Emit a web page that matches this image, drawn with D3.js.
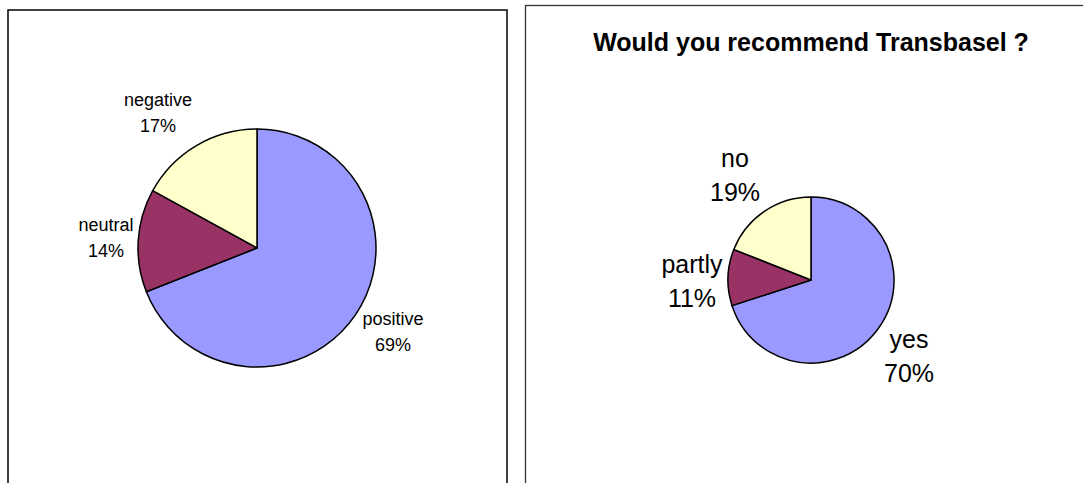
<!DOCTYPE html>
<html>
<head>
<meta charset="utf-8">
<script src="https://cdn.jsdelivr.net/npm/d3@7"></script>
<style>
  body { margin: 0; background: #fff; }
  svg { display: block; font-family: 'Liberation Sans', Arial, sans-serif; }
</style>
</head>
<body>
<div id="chart-area"></div>
<script>
// left chart: overall opinion
const leftLabels = ['positive', 'neutral', 'negative'];
const leftValues = [69, 14, 17];

// right chart: recommendation
const rightTitle = 'Would you recommend Transbasel ?';
const rightLabels = ['yes', 'partly', 'no'];
const rightValues = [70, 11, 19];

const colors = ['#9999ff', '#993366', '#ffffcc'];

let width = 1083;
let height = 483;

let svg = d3
  .select('#chart-area')
  .append('svg')
  .attr('width', width)
  .attr('height', height);

//panel frames
svg
  .append('rect')
  .attr('x', 8)
  .attr('y', 10)
  .attr('width', 499)
  .attr('height', 500)
  .attr('fill', 'none')
  .attr('stroke', '#000')
  .attr('stroke-width', 1.5);
svg
  .append('rect')
  .attr('x', 525.5)
  .attr('y', 5.5)
  .attr('width', 600)
  .attr('height', 500)
  .attr('fill', 'none')
  .attr('stroke', '#333')
  .attr('stroke-width', 1.3);

function drawPie(cx, cy, r, labels, values, fontSize, labelPos, lineGap) {
  let pie = d3.pie().sort(null).value((d) => d)(values);
  let arc = d3.arc().innerRadius(0).outerRadius(r);
  let g = svg.append('g').attr('transform', `translate(${cx}, ${cy})`);

  g.selectAll('path')
    .data(pie)
    .enter()
    .append('path')
    .attr('d', arc)
    .attr('fill', (d, i) => colors[i])
    .attr('stroke', '#000')
    .attr('stroke-width', 1.5)
    .attr('stroke-linejoin', 'round');

  //labels sit outside the pie, offset from its centre
  let lab = g
    .selectAll('text.lab')
    .data(pie)
    .enter()
    .append('text')
    .attr('class', 'lab')
    .attr('text-anchor', 'middle')
    .attr('font-size', fontSize + 'px')
    .attr('fill', '#000')
    .attr('transform', (d, i) => `translate(${labelPos[i][0]}, ${labelPos[i][1]})`);
  lab.append('tspan').attr('x', 0).attr('y', 0).text((d, i) => labels[i]);
  lab
    .append('tspan')
    .attr('x', 0)
    .attr('y', lineGap)
    .text((d) => Math.round(d.value) + '%');
}

drawPie(257, 248, 119, leftLabels, leftValues, 18, [[136, 77], [-151, -17], [-99, -142]], 26);
drawPie(811, 280, 83, rightLabels, rightValues, 25, [[98, 68], [-119, -7], [-76, -113]], 34);

//title
svg
  .append('text')
  .attr('x', 811)
  .attr('y', 51)
  .attr('text-anchor', 'middle')
  .attr('font-size', '25px')
  .attr('font-weight', 'bold')
  .text(rightTitle);
</script>
</body>
</html>
